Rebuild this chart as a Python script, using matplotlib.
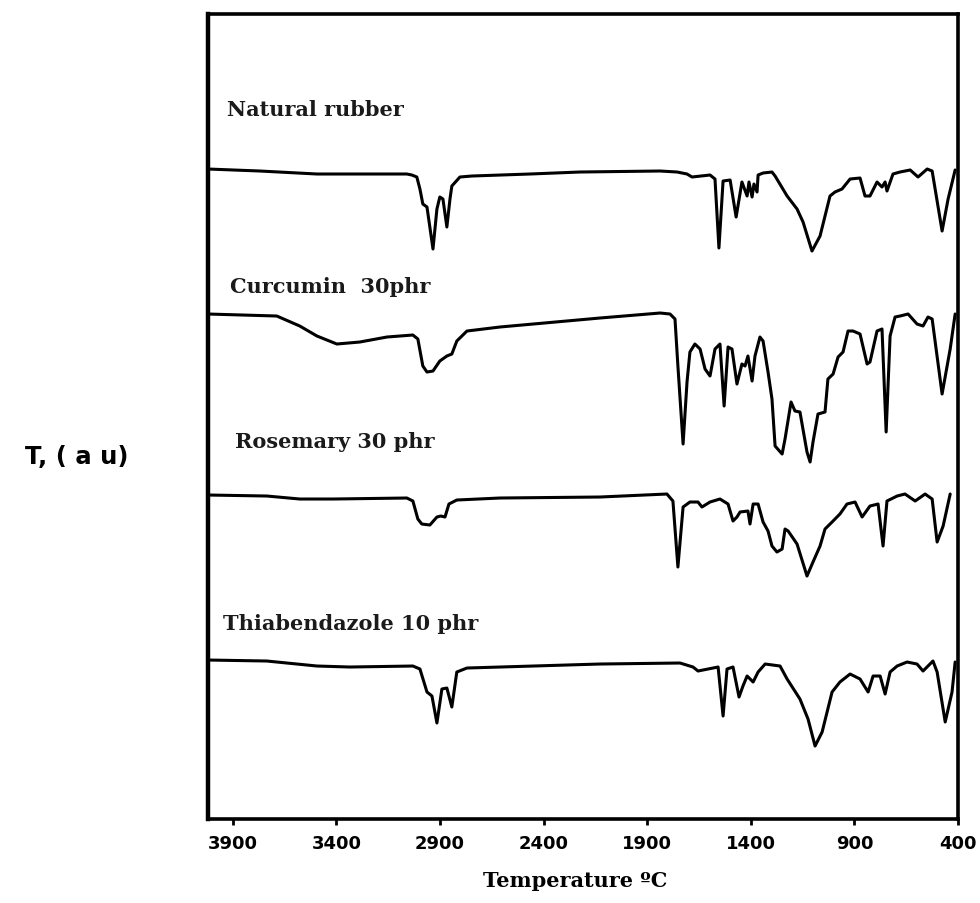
import matplotlib
matplotlib.use("Agg")
import matplotlib.pyplot as plt

# FTIR spectra: wavenumber and relative transmittance (a.u., 0 = own baseline)
nr_wn = [4021, 3770, 3494, 3060, 3036, 3012, 2997, 2983, 2963, 2934,
         2915, 2901, 2886, 2867, 2852, 2843, 2804, 2746, 2466, 2225,
         1838, 1756, 1708, 1684, 1597, 1573, 1554, 1534, 1500, 1471,
         1443, 1418, 1409, 1394, 1385, 1370, 1365, 1341, 1298, 1283,
         1225, 1177, 1148, 1105, 1066, 1018, 994, 960, 921, 873,
         849, 825, 791, 767, 752, 743, 714, 680, 631, 593,
         549, 525, 477, 448, 414]
nr_t = [1, -1, -4, -4, -5, -7, -19, -34, -37, -79,
        -39, -27, -29, -57, -29, -16, -7, -6, -4, -2,
        -1, -2, -4, -7, -5, -9, -78, -11, -10, -47,
        -12, -26, -12, -27, -14, -22, -5, -3, -2, -6,
        -26, -39, -52, -81, -66, -26, -22, -19, -9, -8,
        -26, -26, -12, -17, -12, -21, -4, -2, 0, -7,
        1, -1, -61, -29, 0]

cur_wn = [4021, 3688, 3577, 3494, 3398, 3287, 3156, 3031, 3007, 2983,
          2963, 2934, 2901, 2867, 2843, 2819, 2770, 2611, 2128, 1838,
          1790, 1766, 1752, 1727, 1708, 1694, 1670, 1645, 1621, 1597,
          1573, 1549, 1529, 1510, 1491, 1467, 1443, 1428, 1414, 1394,
          1380, 1356, 1341, 1317, 1298, 1283, 1249, 1235, 1206, 1187,
          1163, 1129, 1114, 1100, 1076, 1042, 1028, 1003, 979, 955,
          931, 907, 873, 839, 825, 791, 767, 747, 728, 704,
          680, 641, 598, 569, 545, 525, 477, 438, 414]
cur_t = [0, -2, -12, -22, -30, -28, -23, -21, -25, -52,
         -58, -57, -47, -42, -40, -27, -17, -13, -4, 1,
         0, -5, -52, -130, -68, -38, -30, -35, -55, -62,
         -35, -30, -92, -33, -35, -70, -50, -52, -42, -67,
         -42, -23, -27, -58, -85, -132, -140, -125, -88, -97,
         -98, -138, -148, -128, -100, -98, -65, -60, -43, -38,
         -17, -17, -20, -50, -48, -17, -15, -118, -22, -3,
         -2, 0, -10, -12, -3, -5, -80, -35, 0]

ros_wn = [4021, 3736, 3577, 3417, 3060, 3031, 3007, 2988, 2949, 2915,
          2896, 2876, 2857, 2819, 2611, 2128, 1805, 1776, 1752, 1727,
          1694, 1655, 1636, 1597, 1549, 1510, 1486, 1467, 1452, 1414,
          1404, 1389, 1365, 1341, 1317, 1298, 1274, 1249, 1235, 1220,
          1177, 1129, 1100, 1066, 1042, 1008, 970, 936, 897, 863,
          825, 786, 762, 743, 694, 656, 607, 559, 525, 501,
          472, 438]
ros_t = [-1, -2, -5, -5, -4, -7, -25, -30, -31, -23,
         -22, -23, -10, -6, -4, -3, 0, -7, -73, -13,
         -8, -8, -13, -8, -5, -10, -27, -23, -18, -17,
         -30, -10, -10, -28, -37, -52, -58, -55, -35, -37,
         -50, -82, -68, -52, -35, -28, -20, -10, -8, -23,
         -12, -10, -52, -7, -2, 0, -7, 0, -5, -48,
         -32, 0]

thi_wn = [4021, 3736, 3494, 3335, 3031, 2997, 2963, 2939, 2915, 2891,
          2867, 2843, 2819, 2770, 2128, 1742, 1679, 1655, 1558, 1534,
          1515, 1486, 1457, 1438, 1418, 1389, 1365, 1331, 1259, 1225,
          1163, 1124, 1090, 1056, 1008, 970, 921, 873, 834, 810,
          776, 752, 728, 694, 646, 598, 569, 521, 501, 462,
          429, 414]
thi_t = [1, 0, -5, -6, -5, -8, -31, -35, -62, -28,
         -27, -46, -11, -7, -3, -2, -6, -10, -6, -55,
         -8, -6, -36, -25, -15, -21, -11, -3, -5, -18,
         -38, -58, -85, -71, -31, -21, -13, -18, -31, -15,
         -15, -33, -11, -5, -1, -3, -10, 0, -11, -61,
         -31, -1]

sample_names = ["Natural rubber", "Curcumin  30phr", "Rosemary 30 phr",
                "Thiabendazole 10 phr"]
x_ticks = [3900, 3400, 2900, 2400, 1900, 1400, 900, 400]

# vertical stacking of the four spectra and where their names sit
offsets = [649, 505, 325, 158]
label_pos = [(3929, 710), (3914, 533), (3890, 378), (3948, 196)]

spectra = [(nr_wn, nr_t), (cur_wn, cur_t), (ros_wn, ros_t), (thi_wn, thi_t)]

fig = plt.figure(figsize=(9.8, 9.04), dpi=100)
ax = fig.add_axes([0.2122, 0.0929, 0.7654, 0.8905])

for (wn, t), off, name, (lx, ly) in zip(spectra, offsets, sample_names, label_pos):
    ax.plot(wn, [off + v for v in t], color="black", lw=2.2,
            solid_joinstyle="round", solid_capstyle="round")
    ax.text(lx, ly, name, family="DejaVu Serif", fontweight="bold",
            fontsize=15, ha="left", va="center", color="#1a1a1a")

ax.set_xlim(4020, 400)
ax.set_ylim(0, 805)
ax.set_xticks(x_ticks)
ax.set_xticklabels([str(v) for v in x_ticks], family="DejaVu Sans",
                   fontweight="bold", fontsize=13)
ax.tick_params(axis="x", direction="out", length=4, width=2, pad=7)
ax.set_yticks([])

for side in ["top", "right", "bottom"]:
    ax.spines[side].set_linewidth(2.6)
ax.spines["left"].set_linewidth(3.2)

fig.text(0.078, 0.495, "T, ( a u)", family="DejaVu Sans", fontweight="bold",
         fontsize=17.5, ha="center", va="center")
fig.text(0.587, 0.014, "Temperature ºC", family="DejaVu Serif",
         fontweight="bold", fontsize=15, ha="center", va="bottom")

fig.savefig("out.png", dpi=100)
